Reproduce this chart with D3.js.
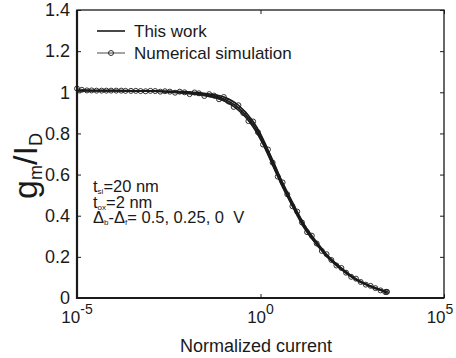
<!DOCTYPE html>
<html lang="en">
<head>
    <meta charset="UTF-8">
    <title>gm/ID vs normalized current</title>
    <script src="https://cdn.jsdelivr.net/npm/d3@7"></script>
    <style>
        body { margin: 0; background: #fff; }
        svg { display: block; font-family: "Liberation Sans", Arial, sans-serif; }
    </style>
</head>
<body>
<script>
    // model curve ("This work"), one y array per Δb-Δf value
    const modelCurrent = [1e-5, 1e-4, 1e-3, 3.16e-3, 0.01, 0.0316, 0.1, 0.251, 0.631, 1, 1.585, 2.512, 3.981,
        6.31, 10, 15.85, 25.12, 39.81, 63.1, 100, 158.5, 251.2, 398.1, 631, 1000, 1585, 2818];
    const modelDelta05 = [1.008, 1.008, 1.007, 1.005, 1.002, 0.994, 0.977, 0.937, 0.858, 0.798, 0.722, 0.642, 0.562,
        0.491, 0.42, 0.354, 0.303, 0.257, 0.213, 0.177, 0.146, 0.118, 0.094, 0.074, 0.059, 0.045, 0.03];
    const modelDelta025 = [1.008, 1.008, 1.006, 1.003, 0.999, 0.989, 0.968, 0.925, 0.845, 0.785, 0.71, 0.63, 0.55,
        0.48, 0.41, 0.345, 0.295, 0.25, 0.207, 0.172, 0.142, 0.114, 0.091, 0.072, 0.057, 0.043, 0.028];
    const modelDelta0 = [1.008, 1.008, 1.005, 1.001, 0.995, 0.984, 0.96, 0.914, 0.833, 0.772, 0.698, 0.618, 0.539,
        0.47, 0.401, 0.337, 0.288, 0.244, 0.202, 0.168, 0.139, 0.111, 0.089, 0.07, 0.055, 0.041, 0.026];

    // numerical simulation points
    const simCurrent05 = [1e-5, 2.5e-5, 6.3e-5, 1.6e-4, 4e-4, 1e-3, 2.5e-3, 6.3e-3, 0.016, 0.04, 0.1, 0.25,
        0.63, 1.6, 4, 10, 25, 63, 160, 400, 1000, 2800];
    const simDelta05 = [1.018, 1.009, 1.008, 1.008, 1.007, 1.007, 1.005, 1.003, 0.999, 0.991, 0.977, 0.937,
        0.858, 0.722, 0.562, 0.42, 0.303, 0.213, 0.146, 0.094, 0.059, 0.03];
    const simCurrent025 = [1.35e-5, 3.4e-5, 8.5e-5, 2.1e-4, 5.4e-4, 1.35e-3, 3.4e-3, 8.5e-3, 0.021, 0.054, 0.135,
        0.34, 0.85, 2.14, 5.37, 13.5, 33.9, 85.1, 214, 537, 1349, 2692];
    const simDelta025 = [1.012, 1.008, 1.008, 1.007, 1.006, 1.006, 1.003, 1.0, 0.995, 0.984, 0.955, 0.899,
        0.806, 0.658, 0.504, 0.367, 0.265, 0.185, 0.123, 0.078, 0.048, 0.03];
    const simCurrent0 = [1.86e-5, 4.7e-5, 1.17e-4, 2.95e-4, 7.4e-4, 1.86e-3, 4.7e-3, 0.0117, 0.0295, 0.074, 0.186,
        0.468, 1.17, 2.95, 7.41, 18.6, 46.8, 117, 295, 741, 1862, 2512];
    const simDelta0 = [1.009, 1.008, 1.008, 1.007, 1.005, 1.003, 0.998, 0.991, 0.982, 0.966, 0.929, 0.86,
        0.746, 0.59, 0.446, 0.32, 0.229, 0.158, 0.103, 0.065, 0.037, 0.029];

    const yTicks = [0, 0.2, 0.4, 0.6, 0.8, 1, 1.2, 1.4];
    const yTickLabels = ["0", "0.2", "0.4", "0.6", "0.8", "1", "1.2", "1.4"];
    const xTicks = [1e-5, 1, 1e5];
    const xTickExps = ["-5", "0", "5"];

    const width = 456, height = 358;
    const margin = {left: 77, right: 12, top: 10, bottom: 60};
    const ink = '#1a1a1a';

    const x = d3.scaleLog().domain([1e-5, 1e5]).range([margin.left, width - margin.right]);
    const y = d3.scaleLinear().domain([0, 1.4]).range([height - margin.bottom, margin.top]);

    const svg = d3.select('body').append('svg')
        .attr('width', width)
        .attr('height', height);

    const line = d3.line()
        .x(d => x(d[0]))
        .y(d => y(d[1]))
        .curve(d3.curveMonotoneX);

    // model lines
    [modelDelta05, modelDelta025, modelDelta0].forEach(ys => {
        svg.append('path')
            .attr('d', line(modelCurrent.map((c, i) => [c, ys[i]])))
            .attr('fill', 'none')
            .attr('stroke', ink)
            .attr('stroke-width', 1.6);
    });

    // simulation lines and markers
    const sims = [[simCurrent05, simDelta05], [simCurrent025, simDelta025], [simCurrent0, simDelta0]];
    sims.forEach(([cs, ys]) => {
        const pts = cs.map((c, i) => [c, ys[i]]);
        svg.append('path')
            .attr('d', line(pts))
            .attr('fill', 'none')
            .attr('stroke', ink)
            .attr('stroke-width', 0.8);
        svg.append('g').selectAll('circle')
            .data(pts)
            .enter().append('circle')
            .attr('cx', d => x(d[0]))
            .attr('cy', d => y(d[1]))
            .attr('r', 2.5)
            .attr('fill', 'none')
            .attr('stroke', ink)
            .attr('stroke-width', 0.9);
    });

    // frame
    const x0 = x.range()[0], x1 = x.range()[1], y0 = y.range()[0], y1 = y.range()[1];
    svg.append('rect')
        .attr('x', x0).attr('y', y1)
        .attr('width', x1 - x0).attr('height', y0 - y1)
        .attr('fill', 'none')
        .attr('stroke', ink)
        .attr('stroke-width', 1.3);
    svg.append('path')
        .attr('d', `M${x0},${y1}V${y0}H${x1}`)
        .attr('fill', 'none')
        .attr('stroke', ink)
        .attr('stroke-width', 2.2);

    // y axis
    const yAxis = svg.append('g')
        .attr('transform', `translate(${x0},0)`)
        .call(d3.axisLeft(y).tickValues(yTicks).tickSize(-4).tickPadding(7)
            .tickFormat((d, i) => yTickLabels[i]));
    yAxis.select('.domain').remove();
    yAxis.selectAll('line').attr('stroke', ink).attr('stroke-width', 1);
    yAxis.selectAll('text').attr('font-size', 18).attr('fill', ink)
        .attr('font-family', '"Liberation Sans", Arial, sans-serif');

    svg.append('g')
        .attr('transform', `translate(${x1},0)`)
        .call(d3.axisRight(y).tickValues(yTicks).tickSize(-4).tickFormat(''))
        .call(g => g.select('.domain').remove())
        .selectAll('line').attr('stroke', ink);

    // x axis
    svg.append('g')
        .attr('transform', `translate(0,${y0})`)
        .call(d3.axisBottom(x).tickValues(xTicks).tickSize(-4).tickFormat(''))
        .call(g => g.select('.domain').remove())
        .selectAll('line').attr('stroke', ink);
    svg.append('g')
        .attr('transform', `translate(0,${y1})`)
        .call(d3.axisTop(x).tickValues(xTicks).tickSize(-4).tickFormat(''))
        .call(g => g.select('.domain').remove())
        .selectAll('line').attr('stroke', ink);

    const xLab = svg.append('g').selectAll('text')
        .data(xTicks)
        .enter().append('text')
        .attr('x', (d, i) => x(d) + (i === 2 ? -4 : 0))
        .attr('y', y0 + 25)
        .attr('text-anchor', 'middle')
        .attr('font-size', 17)
        .attr('fill', ink);
    xLab.append('tspan').text('10');
    xLab.append('tspan')
        .attr('dy', -9)
        .attr('font-size', 14)
        .text((d, i) => xTickExps[i]);

    svg.append('text')
        .attr('x', 256)
        .attr('y', 352)
        .attr('text-anchor', 'middle')
        .attr('font-size', 18)
        .attr('fill', ink)
        .text('Normalized current');

    // y label g_m/I_D
    const yl = svg.append('text')
        .attr('transform', 'translate(37,166) rotate(-90)')
        .attr('text-anchor', 'middle')
        .attr('font-size', 34)
        .attr('fill', ink);
    yl.append('tspan').text('g');
    yl.append('tspan').attr('font-size', 18).attr('dy', 5).text('m');
    yl.append('tspan').attr('dy', -5).text('/I');
    yl.append('tspan').attr('font-size', 18).attr('dy', 5).text('D');

    // legend
    const lg = svg.append('g');
    lg.append('line').attr('x1', 97).attr('x2', 125).attr('y1', 31).attr('y2', 31)
        .attr('stroke', ink).attr('stroke-width', 1.6);
    lg.append('text').attr('x', 134).attr('y', 37).attr('font-size', 17).attr('fill', ink).text('This work');
    lg.append('line').attr('x1', 97).attr('x2', 125).attr('y1', 53).attr('y2', 53)
        .attr('stroke', ink).attr('stroke-width', 0.8);
    lg.append('circle').attr('cx', 111).attr('cy', 53).attr('r', 2.5)
        .attr('fill', 'none').attr('stroke', ink).attr('stroke-width', 0.9);
    lg.append('text').attr('x', 134).attr('y', 59).attr('font-size', 17).attr('fill', ink).text('Numerical simulation');

    // annotation
    const ann = svg.append('g').attr('font-size', 16.5).attr('fill', ink);
    const a1 = ann.append('text').attr('x', 93).attr('y', 192);
    a1.append('tspan').text('t');
    a1.append('tspan').attr('font-size', 8).attr('dy', 2).text('si');
    a1.append('tspan').attr('dy', -2).text('=20 nm');
    const a2 = ann.append('text').attr('x', 93).attr('y', 208);
    a2.append('tspan').text('t');
    a2.append('tspan').attr('font-size', 8).attr('dy', 2).text('ox');
    a2.append('tspan').attr('dy', -2).text('=2 nm');
    const a3 = ann.append('text').attr('x', 93).attr('y', 223);
    a3.append('tspan').text('Δ');
    a3.append('tspan').attr('font-size', 8).attr('dy', 2).text('b');
    a3.append('tspan').attr('dy', -2).text('-Δ');
    a3.append('tspan').attr('font-size', 8).attr('dy', 2).text('f');
    a3.append('tspan').attr('dy', -2).attr('xml:space', 'preserve').text('= 0.5, 0.25, 0 \u00a0V');
</script>
</body>
</html>
